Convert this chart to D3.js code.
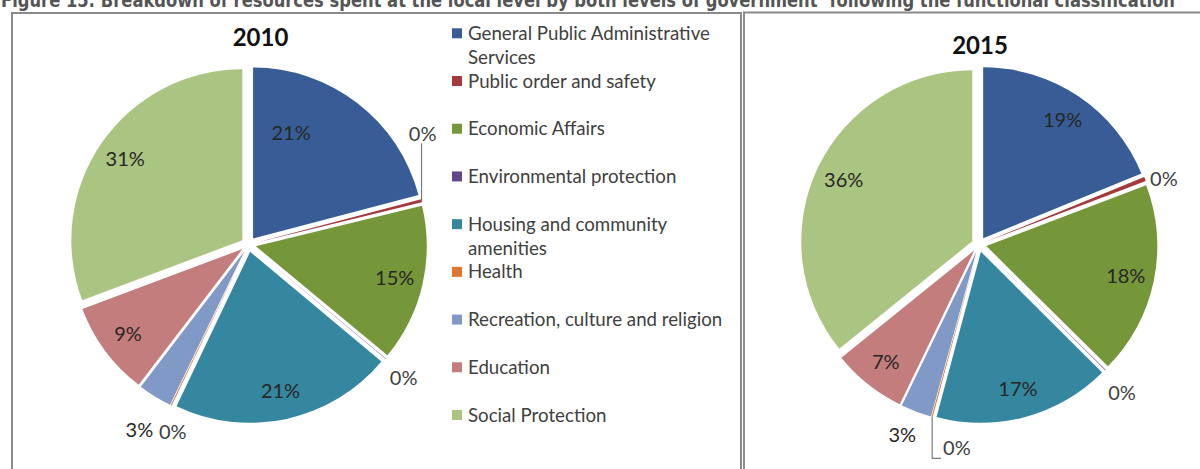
<!DOCTYPE html>
<html>
<head>
<meta charset="utf-8">
<script src="https://cdn.jsdelivr.net/npm/d3@7"></script>
<style>
  html, body { margin: 0; padding: 0; background: #fff; overflow: hidden; }
  svg { display: block; font-family: Lato, "Open Sans", sans-serif; }
</style>
</head>
<body>
<svg id="chart" width="1200" height="469"></svg>
<script>
// Functional classification of local-level spending (share of total, %)
const categories = [
  "General Public Administrative Services",
  "Public order and safety",
  "Economic Affairs",
  "Environmental protection",
  "Housing and community amenities",
  "Health",
  "Recreation, culture and religion",
  "Education",
  "Social Protection"
];
const sliceColors = ["#385D96", "#A5393C", "#76963A", "#64478A", "#34879E", "#E0772F", "#8099C7", "#C47D7D", "#AAC481"];
const shares2010 = [20.9, 0.3, 14.8, 0.05, 21.0, 0.1, 3.2, 8.9, 30.7];
const shares2015 = [18.8, 0.4, 18.2, 0.05, 16.7, 0.1, 2.9, 7.0, 35.8];
const yearLabels = ["2010", "2015"];
const figureTitle = "Figure 15: Breakdown of resources spent at the local level by both levels of government \u2018following the functional classification";

const W = 1200, H = 469;
const svg = d3.select("#chart");

// caption (runs off the top edge)
svg.append("text")
  .attr("x", 1).attr("y", 7)
  .attr("font-family", "'Liberation Sans Narrow', 'DejaVu Sans Condensed', 'Roboto', sans-serif")
  .attr("font-weight", 700).attr("font-size", 19).attr("fill", "#555")
  .attr("textLength", 1174).attr("lengthAdjust", "spacingAndGlyphs")
  .text(figureTitle);

// panel frames
const frame = svg.append("g").attr("fill", "none").attr("stroke", "#8a8a8a").attr("stroke-width", 2);
frame.append("path").attr("d", `M12,${H + 5}V13H741V${H + 5}`);
frame.append("path").attr("d", `M744,${H + 5}V12.5H${W + 5}`);

// shared pie geometry
const radius = 171, explode = 7.5, innerLabelR = 150, outerLabelR = 205;
const pie = d3.pie().sort(null).value(d => d);
const arc = d3.arc().innerRadius(0).outerRadius(radius);
const polar = (a, d) => [Math.sin(a) * d, -Math.cos(a) * d];
const rad = deg => deg * Math.PI / 180;
const pct = v => Math.round(v) + "%";

function drawPie(opts) {
  const g = svg.append("g").attr("transform", `translate(${opts.cx},${opts.cy})`);
  const arcs = pie(opts.values);

  g.append("text")
    .attr("x", opts.titleDx).attr("y", opts.titleY)
    .attr("text-anchor", "middle")
    .attr("font-weight", 700).attr("font-size", 24).attr("fill", "#111")
    .text(opts.title);

  g.selectAll("path.slice").data(arcs).join("path")
    .attr("class", "slice")
    .attr("fill", (d, i) => sliceColors[i])
    .attr("transform", d => {
      const [dx, dy] = polar((d.startAngle + d.endAngle) / 2, explode);
      return `translate(${dx},${dy})`;
    })
    .attr("d", arc);

  const labels = g.append("g").attr("font-size", 20);
  arcs.forEach((d, i) => {
    const mid = (d.startAngle + d.endAngle) / 2;
    const place = opts.labelPlace[i];
    const inside = d.data >= 1;
    const a = place ? rad(place.a) : mid;
    const dist = place ? place.d : (inside ? innerLabelR : outerLabelR);
    const [lx, ly] = polar(a, dist);
    const t = labels.append("text")
      .attr("x", lx).attr("y", ly).attr("dy", "0.35em")
      .attr("text-anchor", "middle")
      .attr("fill", inside ? "#262626" : "#404040")
      .text(pct(d.data));

    if (place && place.leader) {
      const bb = t.node().getBBox();
      const [px, py] = polar(mid, radius + explode);
      let pts;
      if (place.leader === "vertical") {
        pts = [[px, py], [px, bb.y + bb.height - 2]];
      } else {
        const ey = bb.y + bb.height - 1;
        pts = [[px, py], [px, ey], [bb.x - 2, ey]];
      }
      labels.append("path")
        .attr("d", d3.line()(pts))
        .attr("fill", "none").attr("stroke", "#7a7a7a").attr("stroke-width", 1.2);
    }
  });
}

drawPie({
  cx: 248.5, cy: 244.5, title: yearLabels[0], titleDx: 12, titleY: -199,
  values: shares2010,
  labelPlace: [
    { a: 21, d: 119 },
    { a: 57.7, d: 206, leader: "vertical" },
    null,
    { a: 130.8, d: 205 },
    null,
    { a: 202, d: 202 },
    { a: 210.5, d: 215 },
    null,
    null
  ]
});

drawPie({
  cx: 979, cy: 244.5, title: yearLabels[1], titleDx: 1, titleY: -191,
  values: shares2015,
  labelPlace: [
    null,
    { a: 70.6, d: 196 },
    null,
    { a: 136, d: 206 },
    null,
    { a: 186.2, d: 205, leader: "elbow" },
    { a: 202, d: 205 },
    null,
    null
  ]
});

// legend
const legendY = d3.scaleLinear().domain([0, categories.length - 1]).range([33.3, 415]);
const legend = svg.append("g").attr("font-size", 18.7).attr("fill", "#404040");
categories.forEach((name, i) => {
  const cy = legendY(i);
  legend.append("rect")
    .attr("x", 452).attr("y", cy - 5).attr("width", 10).attr("height", 10)
    .attr("fill", sliceColors[i]);
  const t = legend.append("text").attr("x", 468).attr("y", cy).attr("dy", "0.35em");
  // wrap long names onto a second line
  const words = name.split(" ");
  let line = [];
  let tspan = t.append("tspan").attr("x", 468);
  words.forEach(w => {
    line.push(w);
    tspan.text(line.join(" "));
    if (tspan.node().getComputedTextLength() > 270 && line.length > 1) {
      line.pop();
      tspan.text(line.join(" "));
      line = [w];
      tspan = t.append("tspan").attr("x", 468).attr("dy", 24).text(w);
    }
  });
});
</script>
</body>
</html>
